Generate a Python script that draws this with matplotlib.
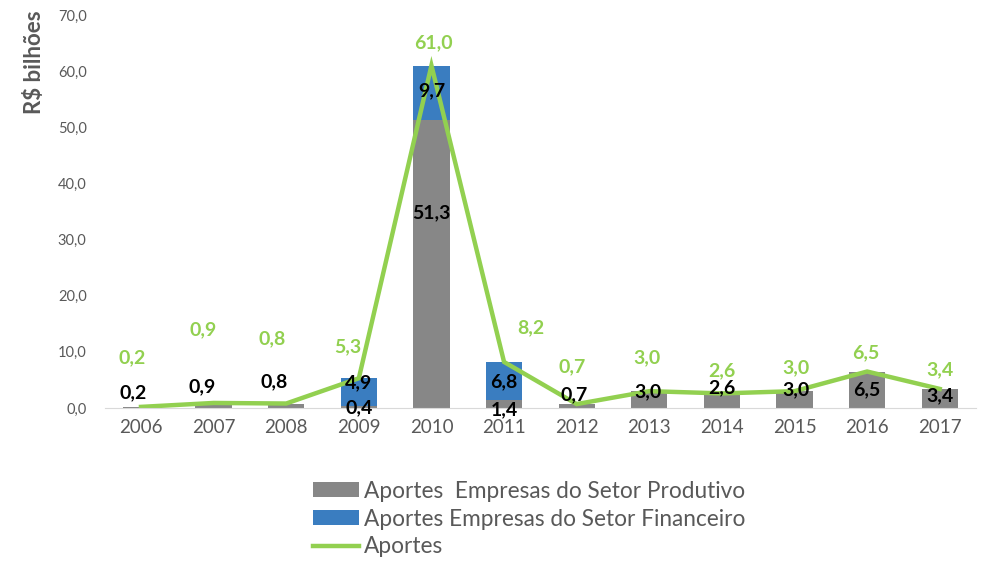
import numpy as np
import matplotlib
matplotlib.use('Agg')
import matplotlib.pyplot as plt

plt.rcParams['font.family'] = ['Lato', 'DejaVu Sans']

# data
years = ['2006', '2007', '2008', '2009', '2010', '2011', '2012', '2013', '2014', '2015', '2016', '2017']
produtivo = [0.2, 0.9, 0.8, 0.4, 51.3, 1.4, 0.7, 3.0, 2.6, 3.0, 6.5, 3.4]
financeiro = [0.0, 0.0, 0.0, 4.9, 9.7, 6.8, 0.0, 0.0, 0.0, 0.0, 0.0, 0.0]
aportes = [0.2, 0.9, 0.8, 5.3, 61.0, 8.2, 0.7, 3.0, 2.6, 3.0, 6.5, 3.4]

# label offsets in pixels (dx, dy), as placed in the original
prod_off = [(-8, 15), (-11, 19), (-12, 24), (0, -1), (0, 51), (0, -6),
            (-3, 11), (-1, 8), (0, 13), (1, 10), (0, 0), (0, 3)]
fin_off = [(0, 0), (0, 0), (0, 0), (0, 9), (0, 2), (0, -1),
           (0, 0), (0, 0), (0, 0), (0, 0), (0, 0), (0, 0)]
tot_off = [(-9, 49), (-10, 73), (-14, 65), (-11, 31), (2, 23), (27, 34),
           (-5, 37), (-2, 33), (0, 23), (1, 23), (-1, 19), (0, 19)]

gray = '#878787'
blue = '#3a7dc0'
green = '#92d050'
txtgray = '#595959'

def fmt(v):
    return f'{v:.1f}'.replace('.', ',')

fig = plt.figure(figsize=(9.84, 5.63), dpi=100)
ax = fig.add_axes([0.1064, 0.2753, 0.8855, 0.6981])

x = np.arange(len(years))
b1 = ax.bar(x, produtivo, width=0.5, color=gray)
b2 = ax.bar(x, financeiro, width=0.5, bottom=produtivo, color=blue)
ln, = ax.plot(x, aportes, color=green, lw=3.2, solid_joinstyle='miter')

lbl = dict(ha='center', va='center', fontsize=14, fontweight='bold', textcoords='offset pixels')
for i in range(len(years)):
    ax.annotate(fmt(produtivo[i]), (x[i], produtivo[i] / 2), xytext=prod_off[i], color='black', **lbl)
    if financeiro[i] > 0:
        ax.annotate(fmt(financeiro[i]), (x[i], produtivo[i] + financeiro[i] / 2),
                    xytext=fin_off[i], color='black', **lbl)
    ax.annotate(fmt(aportes[i]), (x[i], aportes[i]), xytext=tot_off[i], color=green, **lbl)

ax.set_xlim(-0.5, len(years) - 0.5)
ax.set_ylim(0, 70)
ax.set_yticks(np.arange(0, 71, 10))
ax.set_yticklabels([fmt(v) for v in np.arange(0, 71, 10)], color=txtgray, fontsize=10.5)
ax.set_xticks(x)
ax.set_xticklabels(years, color=txtgray, fontsize=13.5)
ax.tick_params(length=0, pad=8)
ax.tick_params(axis='y', pad=13)
for s in ['top', 'right', 'left']:
    ax.spines[s].set_visible(False)
ax.spines['bottom'].set_color('#d9d9d9')

fig.text(0.035, 0.89, 'R$ bilhões', rotation=90, ha='center', va='center',
         color=txtgray, fontsize=16, fontweight='bold')

fig.legend([b1, b2, ln],
           ['Aportes  Empresas do Setor Produtivo', 'Aportes Empresas do Setor Financeiro', 'Aportes'],
           loc='upper left', bbox_to_anchor=(0.318, 0.146), frameon=False,
           fontsize=16.3, labelcolor=txtgray, handlelength=2.05, handleheight=0.65,
           handletextpad=0.2, labelspacing=0.3, borderaxespad=0, borderpad=0)

fig.savefig('out.png', dpi=100)
